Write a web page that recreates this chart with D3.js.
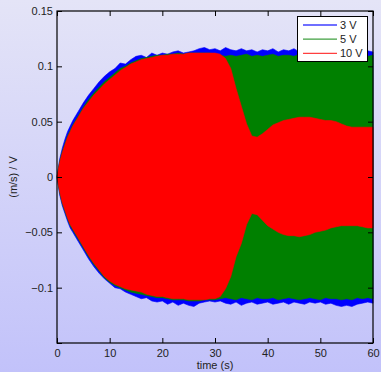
<!DOCTYPE html>
<html><head><meta charset="utf-8">
<script src="https://cdn.jsdelivr.net/npm/d3@7"></script>
<style>html,body{margin:0;padding:0;}svg{display:block;}text{font-family:"Liberation Sans",Arial,sans-serif;}</style>
</head><body>
<svg id="c" width="381" height="372"></svg>
<script>
// time samples (s)
const times = [0,0.5,1,1.5,2,2.5,3,4,5,6,7,8,9,10,11,12,13,14,15,16,17,18,19,20,21,22,23,24,25,26,27,28,29,30,31,32,33,34,35,36,37,38,39,40,41,42,43,44,45,46,47,48,49,50,51,52,53,54,55,56,57,58,59,60];

// envelopes of the oscillating velocity response, (m/s)/V
const blueUpper = [0,0.016,0.026,0.034,0.041,0.046,0.051,0.059,0.067,0.074,0.080,0.086,0.091,0.095,0.098,0.103,0.102,0.106,0.109,0.110,0.108,0.112,0.110,0.112,0.111,0.113,0.114,0.112,0.113,0.114,0.116,0.117,0.115,0.116,0.114,0.117,0.115,0.114,0.116,0.114,0.115,0.113,0.115,0.114,0.116,0.113,0.115,0.114,0.116,0.113,0.114,0.116,0.113,0.115,0.114,0.116,0.113,0.115,0.114,0.116,0.113,0.115,0.114,0.113];
const blueLower = [0,-0.016,-0.026,-0.033,-0.040,-0.046,-0.050,-0.058,-0.066,-0.074,-0.081,-0.087,-0.092,-0.096,-0.100,-0.101,-0.104,-0.106,-0.108,-0.110,-0.109,-0.112,-0.113,-0.112,-0.115,-0.113,-0.116,-0.114,-0.116,-0.117,-0.114,-0.113,-0.112,-0.113,-0.112,-0.114,-0.115,-0.113,-0.116,-0.114,-0.113,-0.115,-0.114,-0.113,-0.115,-0.114,-0.113,-0.115,-0.113,-0.114,-0.115,-0.113,-0.114,-0.113,-0.115,-0.114,-0.116,-0.117,-0.116,-0.117,-0.115,-0.114,-0.113,-0.114];
const greenUpper = [0,0.014,0.023,0.030,0.037,0.042,0.047,0.055,0.063,0.070,0.076,0.081,0.086,0.090,0.094,0.098,0.100,0.103,0.105,0.107,0.108,0.109,0.110,0.110,0.111,0.111,0.112,0.111,0.112,0.112,0.112,0.112,0.112,0.111,0.110,0.109,0.110,0.109,0.110,0.111,0.109,0.110,0.109,0.110,0.111,0.109,0.110,0.110,0.109,0.111,0.110,0.109,0.110,0.111,0.109,0.110,0.110,0.109,0.110,0.111,0.109,0.110,0.109,0.110];
const greenLower = [0,-0.014,-0.024,-0.031,-0.038,-0.044,-0.048,-0.056,-0.064,-0.072,-0.079,-0.085,-0.091,-0.095,-0.098,-0.100,-0.102,-0.104,-0.105,-0.106,-0.107,-0.108,-0.109,-0.109,-0.110,-0.111,-0.111,-0.111,-0.112,-0.112,-0.112,-0.111,-0.111,-0.111,-0.110,-0.109,-0.110,-0.111,-0.109,-0.110,-0.111,-0.109,-0.110,-0.110,-0.109,-0.111,-0.110,-0.109,-0.110,-0.111,-0.110,-0.109,-0.110,-0.111,-0.109,-0.110,-0.110,-0.111,-0.110,-0.111,-0.109,-0.110,-0.109,-0.110];
const redUpper = [0,0.013,0.022,0.029,0.036,0.041,0.046,0.054,0.062,0.068,0.074,0.079,0.084,0.088,0.092,0.096,0.099,0.102,0.104,0.106,0.107,0.108,0.109,0.110,0.110,0.111,0.111,0.111,0.112,0.112,0.112,0.112,0.112,0.112,0.111,0.107,0.098,0.080,0.064,0.048,0.037,0.036,0.039,0.043,0.047,0.049,0.051,0.052,0.053,0.054,0.054,0.054,0.053,0.052,0.051,0.051,0.050,0.048,0.046,0.045,0.045,0.045,0.045,0.045];
const redLower = [0,-0.013,-0.023,-0.030,-0.037,-0.043,-0.047,-0.055,-0.063,-0.071,-0.078,-0.084,-0.090,-0.094,-0.097,-0.099,-0.101,-0.102,-0.103,-0.104,-0.106,-0.107,-0.108,-0.108,-0.109,-0.110,-0.110,-0.110,-0.111,-0.111,-0.111,-0.111,-0.110,-0.110,-0.108,-0.101,-0.090,-0.072,-0.060,-0.043,-0.033,-0.034,-0.039,-0.044,-0.047,-0.050,-0.052,-0.053,-0.053,-0.054,-0.053,-0.052,-0.050,-0.049,-0.048,-0.046,-0.045,-0.044,-0.044,-0.044,-0.044,-0.045,-0.046,-0.046];

const seriesNames = ["3 V","5 V","10 V"];
const seriesColors = ["#0000ff","#008000","#ff0000"];
const xTicks = [0,10,20,30,40,50,60];
const yTicks = [-0.15,-0.1,-0.05,0,0.05,0.1,0.15];
const yTickLabels = ["","\u22120.1","\u22120.05","0","0.05","0.1","0.15"];
const xLabel = "time (s)";
const yLabel = "(m/s) / V";

const W = 381, H = 372;
const m = {left:57, top:11, right:8, bottom:29};
const svg = d3.select("#c");
const defs = svg.append("defs");
const grad = defs.append("linearGradient").attr("id","bg").attr("x1",0).attr("y1",0).attr("x2",0).attr("y2",1);
grad.append("stop").attr("offset","0%").attr("stop-color","#e4e4f7");
grad.append("stop").attr("offset","100%").attr("stop-color","#c2c2fa");
svg.append("rect").attr("width",W).attr("height",H).attr("fill","url(#bg)");

const x = d3.scaleLinear().domain([0,60]).range([m.left, W-m.right]);
const y = d3.scaleLinear().domain([-0.15,0.15]).range([H-m.bottom, m.top]);

const series = [[blueUpper,blueLower],[greenUpper,greenLower],[redUpper,redLower]];
series.forEach((s,i)=>{
  const data = times.map((t,k)=>({t, hi:s[0][k], lo:s[1][k]}));
  const area = d3.area().x(d=>x(d.t)).y0(d=>y(d.lo)).y1(d=>y(d.hi)).curve(d3.curveLinear);
  svg.append("path").datum(data).attr("d",area).attr("fill",seriesColors[i]).attr("stroke",seriesColors[i]).attr("stroke-width",0.6);
});

const fmtY = v => yTickLabels[yTicks.indexOf(v)];
const tk = 5;
svg.append("g").attr("transform",`translate(0,${H-m.bottom})`)
  .call(d3.axisBottom(x).tickValues(xTicks).tickSize(-tk).tickSizeOuter(0).tickPadding(6));
svg.append("g").attr("transform",`translate(0,${m.top})`)
  .call(d3.axisTop(x).tickValues(xTicks).tickSize(-tk).tickSizeOuter(0).tickFormat(""));
svg.append("g").attr("transform",`translate(${m.left},0)`)
  .call(d3.axisLeft(y).tickValues(yTicks).tickSize(-tk).tickSizeOuter(0).tickPadding(4).tickFormat(fmtY));
svg.append("g").attr("transform",`translate(${W-m.right},0)`)
  .call(d3.axisRight(y).tickValues(yTicks).tickSize(-tk).tickSizeOuter(0).tickFormat(""));
svg.selectAll(".domain").remove();
svg.selectAll(".tick line").attr("stroke","#000");
svg.selectAll(".tick text").attr("font-size",11).attr("fill","#222").style("font-family","'Liberation Sans',Arial,sans-serif");
svg.append("rect").attr("x",x(0)).attr("y",y(0.15)).attr("width",x(60)-x(0)).attr("height",y(-0.15)-y(0.15))
  .attr("fill","none").attr("stroke","#000").attr("stroke-width",1.2);

svg.append("text").attr("x",(x(0)+x(60))/2).attr("y",369).attr("text-anchor","middle").attr("font-size",11).attr("fill","#222").text(xLabel);
svg.append("text").attr("transform",`translate(17,${y(0)}) rotate(-90)`).attr("text-anchor","middle").attr("font-size",11).attr("fill","#222").text(yLabel);

// legend
const lg = svg.append("g");
lg.append("rect").attr("x",297.5).attr("y",16.5).attr("width",70).attr("height",45).attr("fill","#fff").attr("stroke","#000").attr("stroke-width",1);
seriesNames.forEach((n,i)=>{
  const ly = 25 + i*14.2;
  lg.append("line").attr("x1",303).attr("x2",337).attr("y1",ly).attr("y2",ly).attr("stroke",seriesColors[i]).attr("stroke-width",1.3).attr("opacity",0.75);
  lg.append("text").attr("x",340).attr("y",ly+4).attr("font-size",11).attr("fill","#222").text(n);
});
</script>
</body></html>
